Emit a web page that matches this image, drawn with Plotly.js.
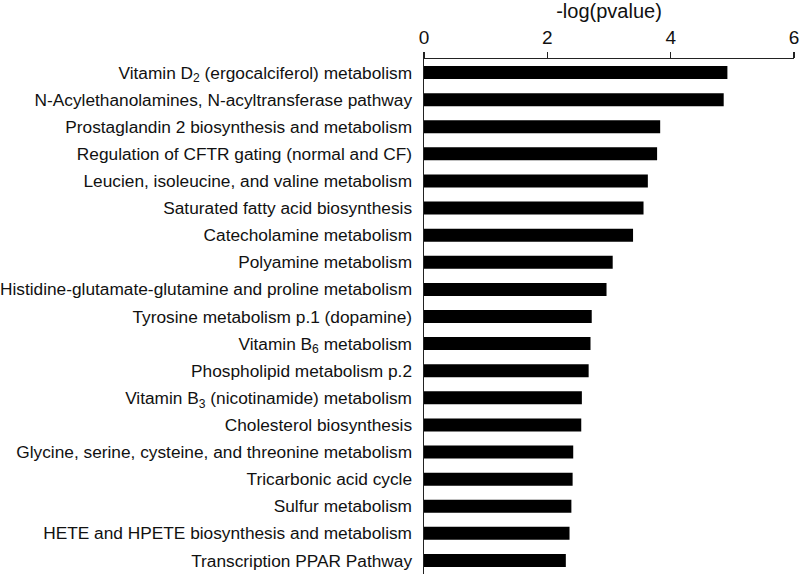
<!DOCTYPE html>
<html>
<head>
<meta charset="utf-8">
<script src="https://cdn.plot.ly/plotly-3.0.1.min.js"></script>
<style>
  html, body { margin: 0; padding: 0; background: #fff; }
  #chart { width: 800px; height: 575px; }
</style>
</head>
<body>
<div id="chart"></div>
<script>
// Pathways, top to bottom as in the figure
const pathways = [
    'Vitamin D<sub>2</sub> (ergocalciferol) metabolism',
    'N-Acylethanolamines, N-acyltransferase pathway',
    'Prostaglandin 2 biosynthesis and metabolism',
    'Regulation of CFTR gating (normal and CF)',
    'Leucien, isoleucine, and valine metabolism',
    'Saturated fatty acid biosynthesis',
    'Catecholamine metabolism',
    'Polyamine metabolism',
    'Histidine-glutamate-glutamine and proline metabolism',
    'Tyrosine metabolism p.1 (dopamine)',
    'Vitamin B<sub>6</sub> metabolism',
    'Phospholipid metabolism p.2',
    'Vitamin B<sub>3</sub> (nicotinamide) metabolism',
    'Cholesterol biosynthesis',
    'Glycine, serine, cysteine, and threonine metabolism',
    'Tricarbonic acid cycle',
    'Sulfur metabolism',
    'HETE and HPETE biosynthesis and metabolism',
    'Transcription PPAR Pathway'
];

// -log(pvalue)
const negLogP = [4.92, 4.86, 3.83, 3.78, 3.63, 3.56, 3.39, 3.06, 2.96, 2.72,
                 2.70, 2.67, 2.56, 2.55, 2.42, 2.41, 2.39, 2.36, 2.30];

const xTicks = [0, 2, 4, 6];

const trace = {
    type: 'bar',
    orientation: 'h',
    x: negLogP,
    y: pathways,
    width: 0.48,
    marker: { color: '#000000' },
    hoverinfo: 'x+y'
};

const layout = {
    width: 800,
    height: 575,
    margin: { l: 424, r: 6, t: 59, b: 1 },
    paper_bgcolor: '#ffffff',
    plot_bgcolor: '#ffffff',
    font: { family: 'Liberation Sans, Arial, sans-serif', color: '#111', size: 17 },
    showlegend: false,
    xaxis: {
        side: 'top',
        range: [0, 6],
        tickvals: xTicks,
        ticktext: xTicks.map(String),
        ticks: 'outside',
        ticklen: 6,
        tickwidth: 1.5,
        tickcolor: '#222',
        showline: true,
        linecolor: '#222',
        linewidth: 1.5,
        showgrid: false,
        zeroline: false,
        tickfont: { size: 19 },
        title: { text: '-log(pvalue)', font: { size: 20 }, standoff: 4 },
        fixedrange: true
    },
    yaxis: {
        type: 'category',
        categoryorder: 'array',
        categoryarray: pathways,
        range: [pathways.length - 0.5, -0.5],
        showline: true,
        linecolor: '#222',
        linewidth: 1.5,
        ticks: '',
        showgrid: false,
        zeroline: false,
        ticklabelstandoff: 7,
        tickfont: { size: 17.3 },
        fixedrange: true
    },
    bargap: 0.52
};

Plotly.newPlot('chart', [trace], layout, { displayModeBar: false, staticPlot: true });
</script>
</body>
</html>
